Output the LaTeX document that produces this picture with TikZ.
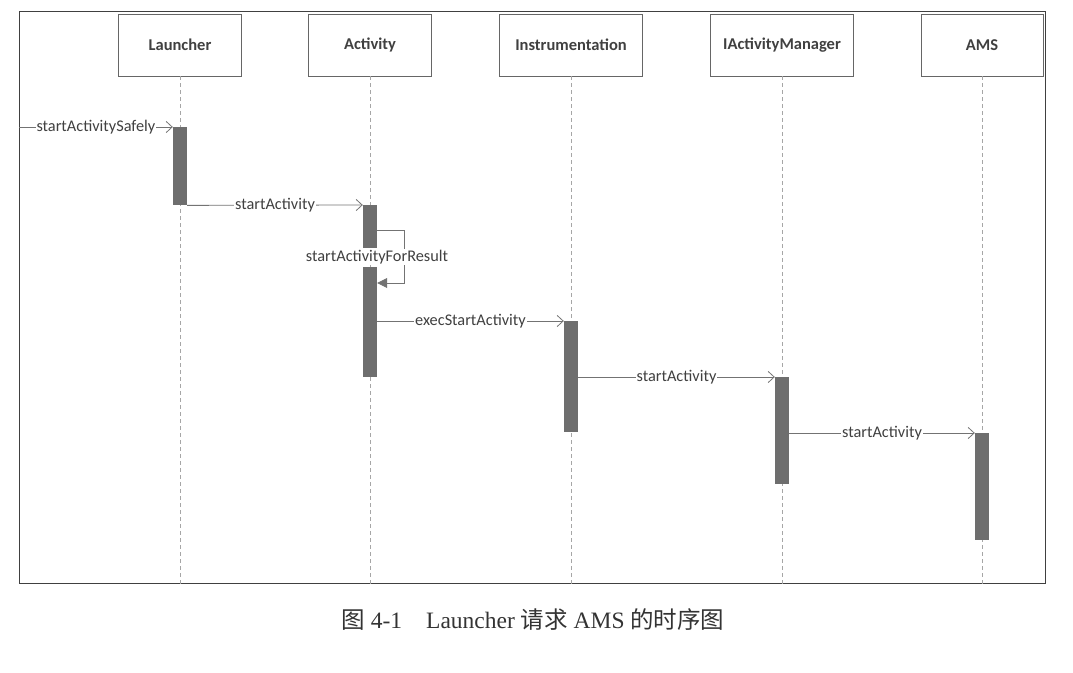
\documentclass[tikz,border=0pt]{standalone}
\usepackage{fontspec}
\setmainfont{Liberation Serif}
\newfontfamily\calib{Carlito}
\newfontfamily\cjk{Noto Sans CJK SC}
\usetikzlibrary{arrows.meta}

\tikzset{
    lifebox/.style={draw=gray!80!black, line width=0.8bp, minimum height=62bp, inner sep=0pt,
        font=\calib\bfseries\fontsize{16.5bp}{18bp}\selectfont, text=black!75},
    lifeline/.style={draw=gray!70, dash pattern=on 4bp off 3bp, line width=0.7bp},
    actbar/.style={fill=black!57, minimum width=14bp, inner sep=0pt, anchor=north},
    msg/.style={draw=gray!90!black, line width=0.8bp, -{Straight Barb[length=6bp,width=11bp]}},
    msglabel/.style={fill=white, inner sep=1pt, font=\calib\fontsize{16.3bp}{18bp}\selectfont, text=black!75},
    selfcall/.style={draw=gray!90!black, line width=0.8bp, -{Triangle[length=10bp,width=10bp]}},
}

\begin{document}
\begin{tikzpicture}[x=1bp, y=-1bp]
    \useasboundingbox (0,0) rectangle (1073,673);
    % Frame
    \node[draw=black!75, line width=1.3bp, minimum width=1026bp, minimum height=572bp,
        inner sep=0pt, anchor=north west] (frame) at (19,11) {};
    % Participants
    \node[lifebox, minimum width=123bp] (launcher) at (180,45) {Launcher};
    \node[lifebox, minimum width=123bp] (activity) at (370,45) {Activity};
    \node[lifebox, minimum width=143bp] (instr) at (571,45) {Instrumentation};
    \node[lifebox, minimum width=143bp] (iam) at (782,45) {IActivityManager};
    \node[lifebox, minimum width=122bp] (ams) at (982,45) {AMS};
    % Lifelines
    \foreach \p in {launcher,activity,instr,iam,ams} {
        \draw[lifeline] (\p.south) -- (\p.south |- frame.south);
    }
    % Activation bars
    \node[actbar, minimum height=78bp] (launcherbar) at (180,127) {};
    \node[actbar, minimum height=43bp] (activitybar1) at (370,205) {};
    \node[actbar, minimum height=110bp] (activitybar2) at (370,267) {};
    \node[actbar, minimum height=111bp] (instrbar) at (571,321) {};
    \node[actbar, minimum height=107bp] (iambar) at (782,377) {};
    \node[actbar, minimum height=107bp] (amsbar) at (982,433) {};
    % Messages
    \draw[msg] (frame.west |- launcherbar.north) -- node[msglabel] (m1) {startActivitySafely} (launcherbar.north west);
    \draw[msg] (launcherbar.south east) -- node[msglabel] (m2) {startActivity} (activitybar1.north west);
    \draw[selfcall] ([yshift=-4bp]activitybar1.east) -- ++(27,0) |- ([yshift=-16bp]activitybar2.north east);
    \node[msglabel] (m3) at (377,257) {startActivityForResult};
    \draw[msg] (activitybar2.east |- instrbar.north) -- node[msglabel] (m4) {execStartActivity} (instrbar.north west);
    \draw[msg] (instrbar.east |- iambar.north) -- node[msglabel] (m5) {startActivity} (iambar.north west);
    \draw[msg] (iambar.east |- amsbar.north) -- node[msglabel] (m6) {startActivity} (amsbar.north west);
    % Caption
    \node[font=\fontsize{23.5bp}{26bp}\selectfont, text=black!80] (caption) at (533,620)
        {{\cjk 图} 4-1\hspace{24bp}Launcher {\cjk 请求} AMS {\cjk 的时序图}};
\end{tikzpicture}
\end{document}
